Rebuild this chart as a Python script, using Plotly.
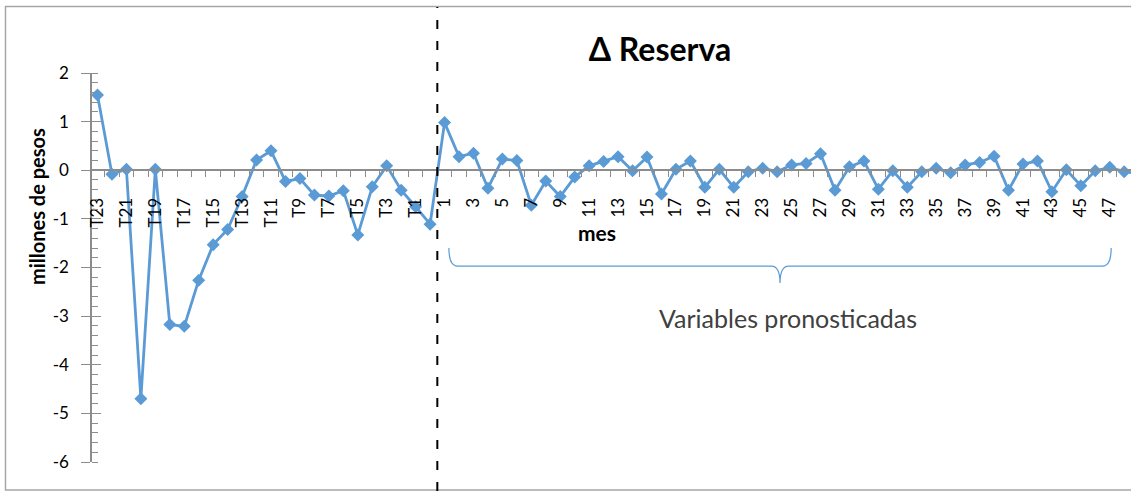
import plotly.graph_objects as go

# Periods: 23 historical quarters (T23..T0) followed by forecast months 1..49
periodos_hist = ["T23", "T22", "T21", "T20", "T19", "T18", "T17", "T16", "T15", "T14",
                 "T13", "T12", "T11", "T10", "T9", "T8", "T7", "T6", "T5", "T4",
                 "T3", "T2", "T1", "T0"]
meses = [str(m) for m in range(1, 50)]
categorias = periodos_hist + meses

# Change in reserve (millions of pesos)
reserva_hist = [1.55, -0.08, 0.02, -4.70, 0.02, -3.17, -3.21, -2.26, -1.53, -1.22,
                -0.54, 0.21, 0.40, -0.23, -0.17, -0.51, -0.53, -0.42, -1.33, -0.34,
                0.09, -0.41, -0.75, -1.11]
reserva_pron = [0.98, 0.28, 0.35, -0.37, 0.23, 0.20, -0.72, -0.22, -0.54, -0.14,
                0.09, 0.18, 0.28, -0.01, 0.27, -0.49, 0.02, 0.19, -0.35, 0.02,
                -0.35, -0.03, 0.04, -0.03, 0.11, 0.14, 0.34, -0.41, 0.07, 0.19,
                -0.39, -0.01, -0.35, -0.03, 0.04, -0.05, 0.11, 0.16, 0.29, -0.41,
                0.13, 0.19, -0.44, 0.01, -0.32, -0.01, 0.06, -0.03, -0.07]
valores = reserva_hist + reserva_pron

# y-axis ticks (hyphen-minus labels)
y_ticks = [2, 1, 0, -1, -2, -3, -4, -5, -6]
y_tick_text = ["2", "1", "0", "-1", "-2", "-3", "-4", "-5", "-6"]

titulo = "Δ Reserva"
titulo_y = "millones de pesos"
titulo_x = "mes"
nota_pronostico = "Variables pronosticadas"

# ---- layout constants -------------------------------------------------------
W, H = 1131, 491
ML, MR, MT, MB = 92, 0, 73, 29
PW, PH = W - ML - MR, H - MT - MB
Y_MIN, Y_MAX = -6, 2
X_MIN, X_MAX = -0.38, 71.47
AZUL = "#5B9BD5"
GRIS = "#8C8C8C"
FUENTE = "Lato, 'Open Sans', sans-serif"


def px_x(p):
    """pixel column -> paper x"""
    return (p - ML) / PW


def px_y(p):
    """pixel row -> paper y"""
    return (H - MB - p) / PH


x = list(range(len(categorias)))
n_hist = len(periodos_hist)

fig = go.Figure()
fig.add_trace(go.Scatter(
    x=x, y=valores, mode="lines+markers",
    line=dict(color=AZUL, width=2.8),
    marker=dict(symbol="diamond", size=10, color=AZUL),
    hoverinfo="skip", showlegend=False,
))
# helper trace so the overlaid axis (inner half of the cross ticks) is drawn
fig.add_trace(go.Scatter(x=[], y=[], yaxis="y2", showlegend=False))

eje_cero = (0 - Y_MIN) / (Y_MAX - Y_MIN)

fig.update_layout(
    width=W, height=H,
    margin=dict(l=ML, r=MR, t=MT, b=MB),
    paper_bgcolor="white", plot_bgcolor="white",
    font=dict(family=FUENTE, color="#000000"),
    title=dict(text="<b>" + titulo + "</b>", x=660 / W, y=1 - 50 / H,
               xref="container", yref="container",
               xanchor="center", yanchor="middle",
               font=dict(size=32, color="#000000")),
    xaxis=dict(
        range=[X_MIN, X_MAX], anchor="free", position=eje_cero,
        tickmode="array", tickvals=x[::2], ticktext=categorias[::2],
        tickangle=-90, tickfont=dict(size=17), ticks="",
        ticklabelstandoff=20,
        showline=True, linecolor=GRIS, linewidth=1.5,
        showgrid=False, zeroline=False,
        minor=dict(tickmode="linear", tick0=-0.5, dtick=1, ticks="outside",
                   ticklen=6, tickcolor=GRIS, tickwidth=1.2, showgrid=False),
    ),
    yaxis=dict(
        range=[Y_MIN, Y_MAX], tickmode="array", tickvals=y_ticks,
        ticktext=y_tick_text, ticks="outside", ticklen=9,
        tickcolor=GRIS, tickwidth=1.2, tickfont=dict(size=17),
        ticklabelstandoff=9,
        showline=True, linecolor=GRIS, linewidth=1.5,
        showgrid=False, zeroline=False,
        minor=dict(tickmode="linear", tick0=0, dtick=0.2, ticks="inside",
                   ticklen=6, tickcolor=GRIS, tickwidth=1.2, showgrid=False),
    ),
    yaxis2=dict(
        range=[Y_MIN, Y_MAX], tickmode="array", tickvals=y_ticks,
        overlaying="y", side="left",
        ticks="inside", ticklen=9, tickcolor=GRIS, tickwidth=1.2,
        showticklabels=False, showline=False, showgrid=False, zeroline=False,
    ),
)

# frame around the chart
fig.add_shape(type="rect", xref="paper", yref="paper",
              x0=px_x(5.5), x1=px_x(W + 20), y0=px_y(490), y1=px_y(6.5),
              line=dict(color="#A6A6A6", width=1.5), fillcolor="rgba(0,0,0,0)",
              layer="below")

# dashed separator between history and forecast
sep = (n_hist - 0.5 - X_MIN) / (X_MAX - X_MIN)
fig.add_shape(type="line", xref="paper", yref="paper",
              x0=sep, x1=sep, y0=px_y(491), y1=px_y(7),
              line=dict(color="#000000", width=2, dash="9px,12px"))

# curly brace spanning the forecast horizon
bx0, bxm, bx1 = 24.3, 47.2, 70.1
by0, bym, byt = -1.60, -1.97, -2.32
r = 0.6
brace = (f"M {bx0},{by0} Q {bx0},{bym} {bx0 + r},{bym} "
         f"L {bxm - r},{bym} Q {bxm},{bym} {bxm},{byt} "
         f"Q {bxm},{bym} {bxm + r},{bym} "
         f"L {bx1 - r},{bym} Q {bx1},{bym} {bx1},{by0}")
fig.add_shape(type="path", xref="x", yref="y", path=brace,
              line=dict(color=AZUL, width=1.2))

fig.add_annotation(text="<b>" + titulo_y + "</b>", xref="paper", yref="paper",
                   x=px_x(37), y=px_y(207), textangle=-90, showarrow=False,
                   xanchor="center", yanchor="middle",
                   font=dict(size=20, color="#000000"))
fig.add_annotation(text="<b>" + titulo_x + "</b>", xref="paper", yref="paper",
                   x=px_x(597), y=px_y(232), showarrow=False,
                   xanchor="center", yanchor="middle",
                   font=dict(size=21, color="#000000"))
fig.add_annotation(text=nota_pronostico, xref="paper", yref="paper",
                   x=px_x(788), y=px_y(318), showarrow=False,
                   xanchor="center", yanchor="middle",
                   font=dict(size=25, color="#404040"))

fig.write_html("out.html")
